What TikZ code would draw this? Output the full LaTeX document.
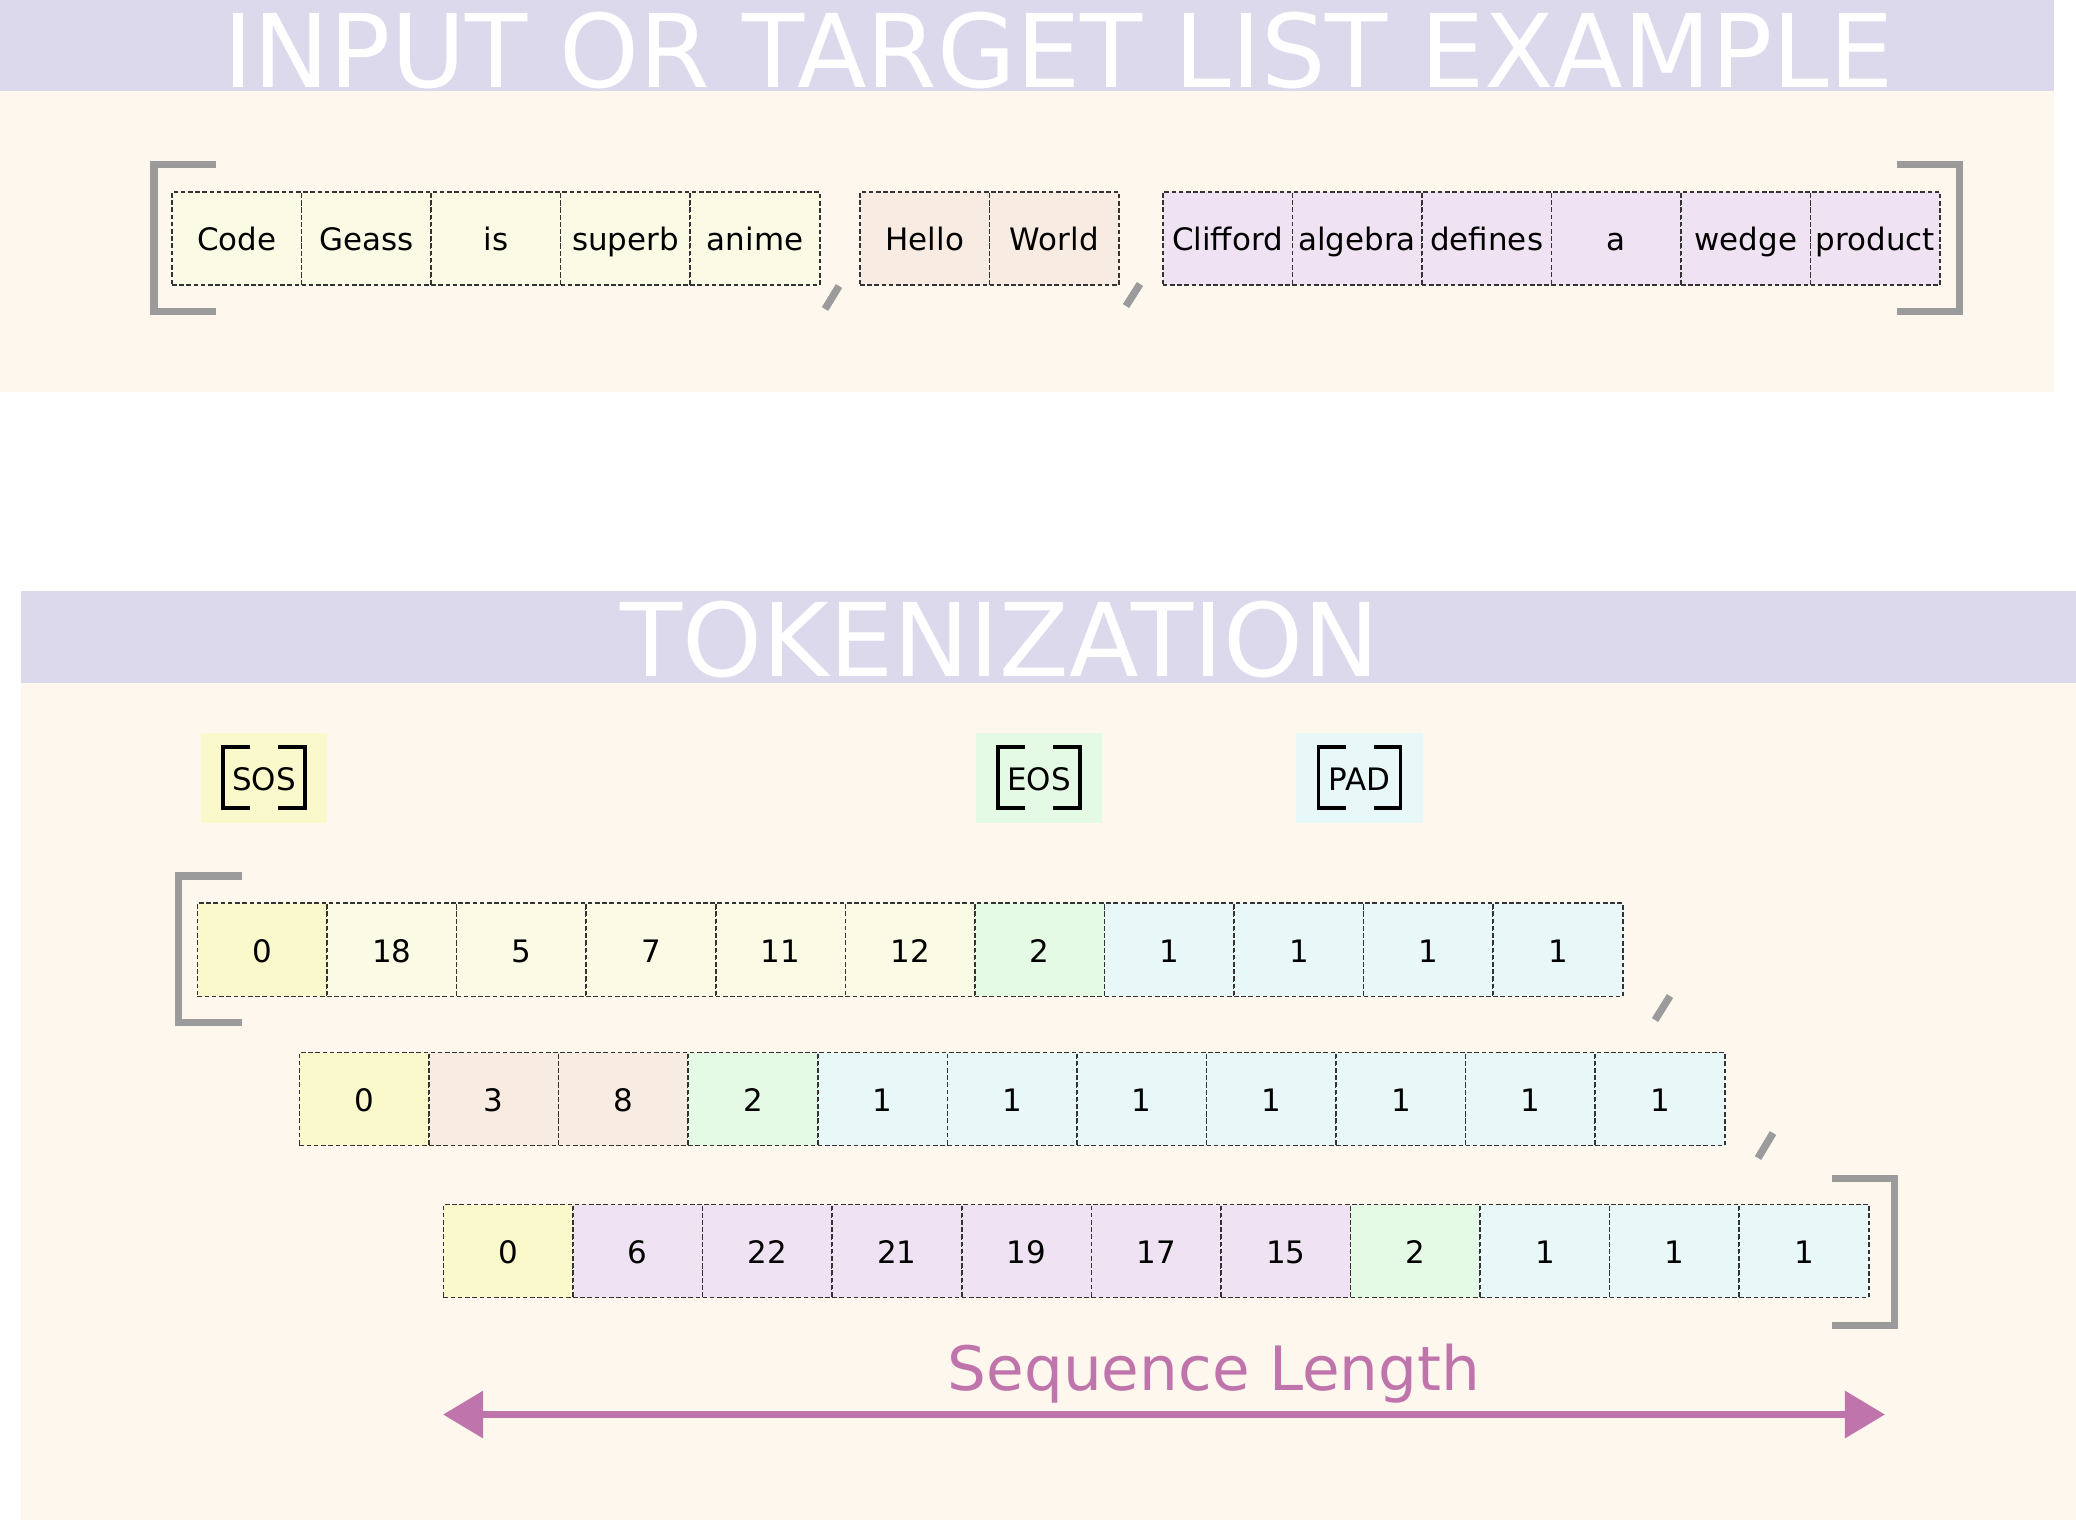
\documentclass[tikz,border=0pt]{standalone}
\usepackage{fontspec}
\setmainfont{DejaVu Sans}
\usepackage{xcolor}
\usepackage{tikz}
\usetikzlibrary{arrows.meta,positioning,calc}

\definecolor{bandpurple}{HTML}{DCD9EC}
\definecolor{panelcream}{HTML}{FEF7EE}
\definecolor{sosyellow}{HTML}{FAF9CC}
\definecolor{wordyellow}{HTML}{FBFBE5}
\definecolor{wordpeach}{HTML}{F8EBE1}
\definecolor{wordlilac}{HTML}{EFE2F2}
\definecolor{eosgreen}{HTML}{E5FAE5}
\definecolor{padcyan}{HTML}{E8F7F7}
\definecolor{brgray}{HTML}{9B9B9B}
\definecolor{seqpink}{HTML}{BF75AB}

\begin{document}
\begin{tikzpicture}[
  x=0.01cm, y=-0.01cm,
  node distance=0pt,
  cell/.style={draw=black!80, dash pattern=on 1.3pt off 0.75pt, line width=0.45pt,
    minimum width=1.295cm, minimum height=0.93cm, inner sep=0pt, outer sep=0pt,
    text height=7.6pt, text depth=0.5pt, font=\fontsize{8.8pt}{10pt}\selectfont},
  tagbox/.style={minimum width=1.26cm, minimum height=0.9cm, inner sep=0pt,
    text height=7.6pt, text depth=0.5pt, font=\fontsize{8.8pt}{10pt}\selectfont},
  tagbr/.style={draw=black, line width=0.9pt},
  listbr/.style={draw=brgray, line width=2.1pt},
  title/.style={anchor=base, inner sep=0pt, text=white,
    font=\fontsize{28.9pt}{32pt}\selectfont},
  seqarrow/.style={{Triangle[length=11.4pt,width=13pt]}-{Triangle[length=11.4pt,width=13pt]},
    draw=seqpink, line width=2.1pt}
]
\useasboundingbox (0,0) rectangle (2076,1520);
\fill[white] (0,0) rectangle (2076,1520);

% panels
\fill[panelcream] (0,91) rectangle (2054,392);
\fill[bandpurple] (0,0) rectangle (2054,91);
\fill[panelcream] (21,683) rectangle (2076,1520);
\fill[bandpurple] (21,591) rectangle (2076,683);
\node[title] (ttop) at (1058.5,87) {INPUT OR TARGET LIST EXAMPLE};
\node[title] (tbot) at (1000,676) {TOKENIZATION};

% input / target list
\node[cell, fill=wordyellow] (w1) at (236.75,238.5) {Code};
\node[cell, fill=wordyellow, right=of w1] (w2) {Geass};
\node[cell, fill=wordyellow, right=of w2] (w3) {is};
\node[cell, fill=wordyellow, right=of w3] (w4) {superb};
\node[cell, fill=wordyellow, right=of w4] (w5) {anime};
\node[cell, fill=wordpeach] (w6) at (924.75,238.5) {Hello};
\node[cell, fill=wordpeach, right=of w6] (w7) {World};
\node[cell, fill=wordlilac] (w8) at (1227.5,238.5) {Clifford};
\node[cell, fill=wordlilac, right=of w8] (w9) {algebra};
\node[cell, fill=wordlilac, right=of w9] (w10) {defines};
\node[cell, fill=wordlilac, right=of w10] (w11) {a};
\node[cell, fill=wordlilac, right=of w11] (w12) {wedge};
\node[cell, fill=wordlilac, right=of w12] (w13) {product};

\draw[listbr] (216,164.5) -- (154,164.5) -- (154,311.5) -- (216,311.5);
\draw[listbr] (1897,164.5) -- (1959.5,164.5) -- (1959.5,311.5) -- (1897,311.5);
\draw[listbr] (825,309) -- (839,286);
\draw[listbr] (1126,306) -- (1140,284);

% special tokens
\node[tagbox, fill=sosyellow] (sos) at (264,778) {SOS};
\node[tagbox, fill=eosgreen] (eos) at (1039,778) {EOS};
\node[tagbox, fill=padcyan] (pad) at (1359.5,778) {PAD};
\foreach \n in {sos,eos,pad}{
  \draw[tagbr] ([shift={(-14,-31)}]\n.center) -- ++(-27,0) -- ++(0,61) -- ++(27,0);
  \draw[tagbr] ([shift={(14,-31)}]\n.center) -- ++(27,0) -- ++(0,61) -- ++(-27,0);
}

% token ids
\node[cell, fill=sosyellow] (a1) at (262.25,949.75) {0};
\node[cell, fill=wordyellow, right=of a1] (a2) {18};
\node[cell, fill=wordyellow, right=of a2] (a3) {5};
\node[cell, fill=wordyellow, right=of a3] (a4) {7};
\node[cell, fill=wordyellow, right=of a4] (a5) {11};
\node[cell, fill=wordyellow, right=of a5] (a6) {12};
\node[cell, fill=eosgreen, right=of a6] (a7) {2};
\node[cell, fill=padcyan, right=of a7] (a8) {1};
\node[cell, fill=padcyan, right=of a8] (a9) {1};
\node[cell, fill=padcyan, right=of a9] (a10) {1};
\node[cell, fill=padcyan, right=of a10] (a11) {1};

\node[cell, fill=sosyellow] (b1) at (364.25,1099) {0};
\node[cell, fill=wordpeach, right=of b1] (b2) {3};
\node[cell, fill=wordpeach, right=of b2] (b3) {8};
\node[cell, fill=eosgreen, right=of b3] (b4) {2};
\node[cell, fill=padcyan, right=of b4] (b5) {1};
\node[cell, fill=padcyan, right=of b5] (b6) {1};
\node[cell, fill=padcyan, right=of b6] (b7) {1};
\node[cell, fill=padcyan, right=of b7] (b8) {1};
\node[cell, fill=padcyan, right=of b8] (b9) {1};
\node[cell, fill=padcyan, right=of b9] (b10) {1};
\node[cell, fill=padcyan, right=of b10] (b11) {1};

\node[cell, fill=sosyellow] (c1) at (508.25,1251) {0};
\node[cell, fill=wordlilac, right=of c1] (c2) {6};
\node[cell, fill=wordlilac, right=of c2] (c3) {22};
\node[cell, fill=wordlilac, right=of c3] (c4) {21};
\node[cell, fill=wordlilac, right=of c4] (c5) {19};
\node[cell, fill=wordlilac, right=of c5] (c6) {17};
\node[cell, fill=wordlilac, right=of c6] (c7) {15};
\node[cell, fill=eosgreen, right=of c7] (c8) {2};
\node[cell, fill=padcyan, right=of c8] (c9) {1};
\node[cell, fill=padcyan, right=of c9] (c10) {1};
\node[cell, fill=padcyan, right=of c10] (c11) {1};

\draw[listbr] (241.7,875.8) -- (178.7,875.8) -- (178.7,1022.5) -- (241.7,1022.5);
\draw[listbr] (1831.7,1178.5) -- (1894.7,1178.5) -- (1894.7,1325.5) -- (1831.7,1325.5);
\draw[listbr] (1655,1020) -- (1670,996);
\draw[listbr] (1758,1158) -- (1773,1133);

% sequence length
\node[anchor=base, inner sep=0pt, text=seqpink, font=\fontsize{17.4pt}{20pt}\selectfont]
  (seqlab) at (1214,1390) {Sequence Length};
\coordinate (seqL) at (443,1414.5);
\coordinate (seqR) at (1885,1414.5);
\draw[seqarrow] (seqL) -- (seqR);
\end{tikzpicture}
\end{document}
